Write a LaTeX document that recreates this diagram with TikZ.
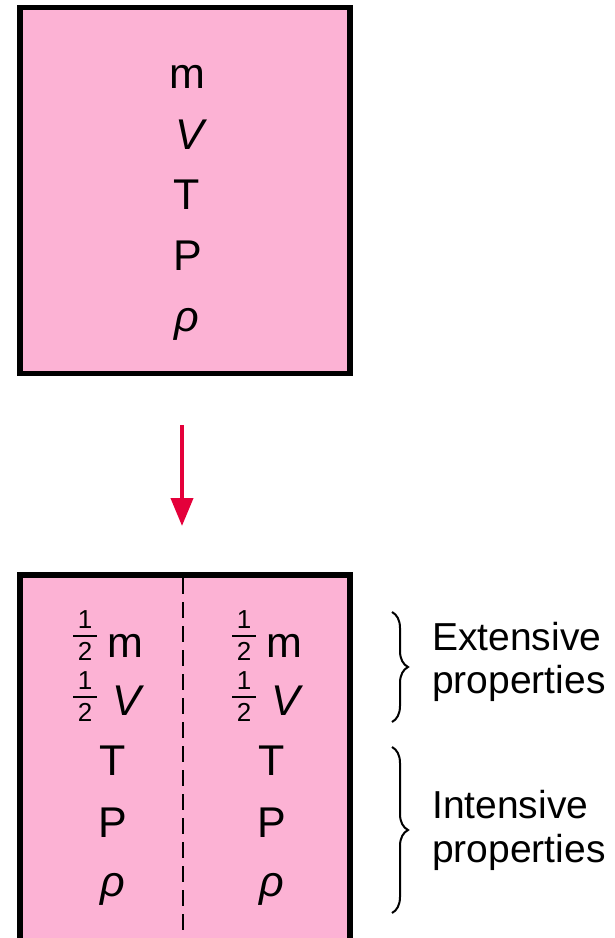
\documentclass[tikz,border=0pt]{standalone}
\usepackage{fontspec}
\setmainfont{Liberation Sans}
\usetikzlibrary{arrows.meta,decorations.pathreplacing}
\definecolor{boxpink}{RGB}{252,178,212}
\definecolor{arrred}{RGB}{228,0,58}
\begin{document}
\begin{tikzpicture}[x=1pt,y=-1pt,
  sym/.style={anchor=base,inner sep=0pt,font=\fontsize{43}{43}\selectfont},
  fracdigit/.style={anchor=base,inner sep=0pt,font=\fontsize{26}{26}\selectfont},
  lbl/.style={anchor=base west,inner sep=0pt,font=\fontsize{39}{39}\selectfont},
  border/.style={line width=5.5pt},
  bracestyle/.style={decorate,decoration={brace,amplitude=16pt},line width=2pt},
  fracbar/.style={line width=2pt}]
\useasboundingbox (0,0) rectangle (614,938);
% top box
\node[draw, border, fill=boxpink, minimum width=330pt, minimum height=366pt, inner sep=0pt] (topbox) at (185,190.5) {};
\node[sym] (tm) at (187,88) {m};
\node[sym] (tV) at (190,149) {\itshape V};
\node[sym] (tT) at (187,209) {T};
\node[sym] (tP) at (188,270) {P};
\node[sym] (trho) at (187,331) {\itshape ρ};
% arrow
\coordinate (astart) at (182,425);
\coordinate (aend) at (182,526);
\draw[arrred, line width=4pt, -{Triangle[width=22pt,length=28pt]}] (astart) -- (aend);
% bottom box
\begin{scope}
\clip (0,0) rectangle (614,938);
\fill[boxpink] (20,575) rectangle (350,960);
\draw[border] (20,960) -- (20,575) -- (350,575) -- (350,960);
\end{scope}
\coordinate (dtop) at (183,578);
\coordinate (dbot) at (183,938);
\draw[dash pattern=on 16pt off 8pt, line width=2pt] (dtop) -- (dbot);
% columns
\foreach \c/\dx in {L/0,R/159}{
  \node[fracdigit] (one1\c) at (85+\dx,628) {1};
  \node[fracdigit] (two1\c) at (85+\dx,660) {2};
  \coordinate (b1a\c) at (73+\dx,636);
  \coordinate (b1b\c) at (97+\dx,636);
  \draw[fracbar] (b1a\c) -- (b1b\c);
  \node[sym] (m\c) at (125+\dx,657) {m};
  \node[fracdigit] (one2\c) at (85+\dx,689) {1};
  \node[fracdigit] (two2\c) at (85+\dx,721) {2};
  \coordinate (b2a\c) at (73+\dx,697);
  \coordinate (b2b\c) at (97+\dx,697);
  \draw[fracbar] (b2a\c) -- (b2b\c);
  \node[sym] (V\c) at (127+\dx,715) {\itshape V};
  \node[sym] (T\c) at (113+\dx,775) {T};
  \node[sym] (P\c) at (113+\dx,837) {P};
  \node[sym] (rho\c) at (113+\dx,896) {\itshape ρ};
}
% braces
\coordinate (br1t) at (392,612);
\coordinate (br1b) at (392,722);
\draw[bracestyle] (br1t) -- (br1b);
\coordinate (br2t) at (392,747);
\coordinate (br2b) at (392,913);
\draw[bracestyle] (br2t) -- (br2b);
\node[lbl] (ext1) at (432,650) {Extensive};
\node[lbl] (ext2) at (432,693) {properties};
\node[lbl] (int1) at (432,818) {Intensive};
\node[lbl] (int2) at (432,862) {properties};
\end{tikzpicture}
\end{document}
